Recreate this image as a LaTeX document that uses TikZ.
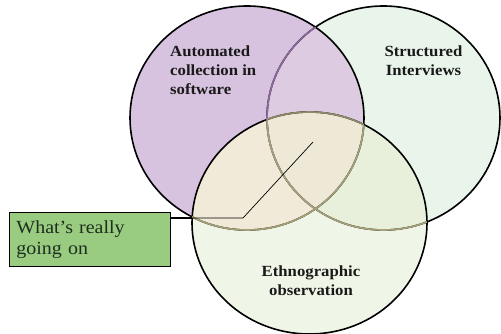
\documentclass[tikz,border=0pt]{standalone}
\usepackage{fontspec}
\usetikzlibrary{calc}
\setmainfont{Liberation Serif}
\newfontfamily\lblfont[FakeStretch=1.08]{Liberation Serif}
\definecolor{colA}{HTML}{D7C3DF}
\definecolor{colB}{HTML}{E9F4EA}
\definecolor{colAB}{HTML}{DCCBE1}
\definecolor{colC}{HTML}{F0F6E7}
\definecolor{colAC}{HTML}{F2EAD8}
\definecolor{colBC}{HTML}{E8F0DC}
\definecolor{colABC}{HTML}{EEE9D6}
\definecolor{boxgreen}{HTML}{99CC80}
\definecolor{lineAB}{HTML}{8E6A9E}
\definecolor{lineC}{HTML}{A5A27A}
\definecolor{lineCin}{HTML}{8F8A68}
\definecolor{boxtext}{HTML}{1E2E1E}
\begin{document}
\begin{tikzpicture}[x=1pt,y=-1pt,
  outline/.style={line width=1.6pt},
  circlabel/.style={font=\lblfont\bfseries\fontsize{15.5}{19}\selectfont, inner sep=0pt, text=black!90},
  callout/.style={draw=black, line width=0.9pt, fill=boxgreen, minimum width=161pt, minimum height=54pt,
    text width=147pt, inner xsep=7pt, align=left, font=\lblfont\fontsize{18.5}{21}\selectfont, text=boxtext},
  leader/.style={draw=black, line width=0.7pt}]
\useasboundingbox (0,0) rectangle (501,334);
\def\cA{(247,118) ellipse [x radius=117, y radius=112]}
\def\cB{(383.5,118) ellipse [x radius=116.5, y radius=112]}
\def\cC{(309.5,223) ellipse [x radius=117.5, y radius=111]}
% region fills
\fill[colA] \cA;
\fill[colB] \cB;
\fill[colC] \cC;
\begin{scope}\clip \cA; \fill[colAB] \cB; \end{scope}
\begin{scope}\clip \cA; \fill[colAC] \cC; \end{scope}
\begin{scope}\clip \cB; \fill[colBC] \cC; \end{scope}
\begin{scope}\clip \cA; \clip \cB; \fill[colABC] \cC; \end{scope}
% outlines
\draw[outline] \cA;
\draw[outline] \cB;
\draw[outline] \cC;
\begin{scope}\clip \cA; \draw[outline, lineAB] \cB; \end{scope}
\begin{scope}\clip \cC; \draw[outline, lineC] \cA; \draw[outline, lineC] \cB; \end{scope}
\begin{scope}\clip \cA; \clip \cB; \draw[outline, lineCin] \cC; \end{scope}
% labels
\node[circlabel, anchor=north west, align=left] (auto) at (170,46) {Automated\\collection in\\software};
\node[circlabel, anchor=north, align=center] (struct) at (423.5,46) {Structured\\Interviews};
\node[circlabel, anchor=north, align=center] (ethno) at (311,266) {Ethnographic\\observation};
% callout
\node[callout, anchor=north west] (box) at (9,212) {What’s really\\going on};
\coordinate (start) at ($(box.north east)+(0,6)$);
\coordinate (cedge) at (192,218);
\coordinate (bend) at (243,218);
\coordinate (tip) at (313,142);
\draw[leader] (start) -- (bend) -- (tip);
\draw[line width=1.3pt] (start) -- (cedge);
\end{tikzpicture}
\end{document}
